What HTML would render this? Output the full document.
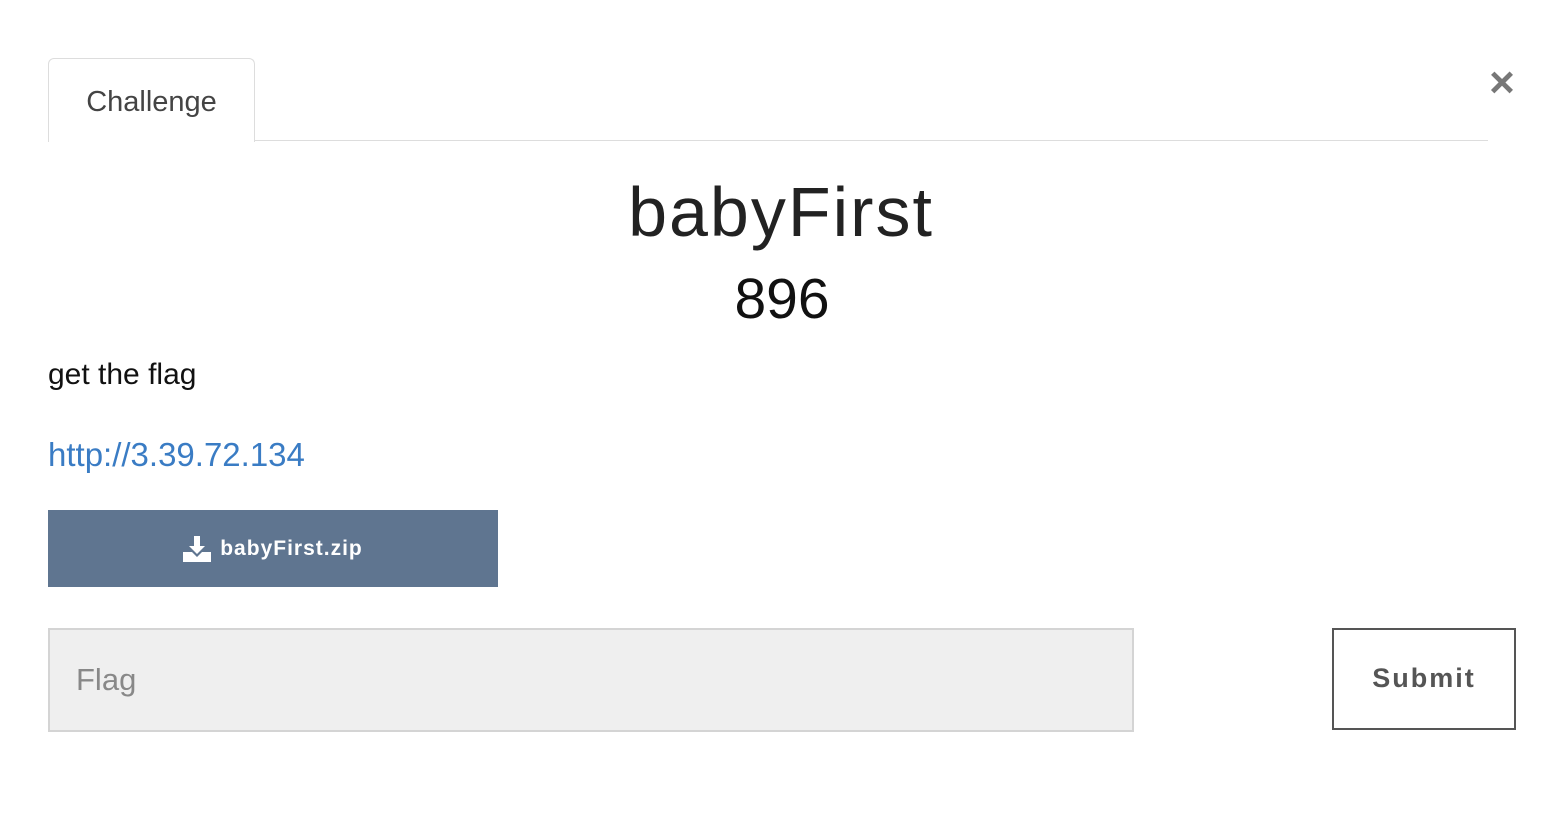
<!DOCTYPE html>
<html><head><meta charset="utf-8"><style>
body{margin:0;width:1568px;height:814px;background:#fff;font-family:"Liberation Sans",sans-serif;position:relative;overflow:hidden}
.abs{position:absolute}
</style></head><body>
<div class="abs" style="left:48px;top:58px;width:207px;height:84px;border:1px solid #ddd;border-bottom:none;border-radius:6px 6px 0 0;background:#fff;z-index:2;box-sizing:border-box;text-align:center;line-height:86px;font-size:29px;color:#444">Challenge</div>
<div class="abs" style="left:48px;top:140px;width:1440px;height:1px;background:#ddd"></div>
<div class="abs" style="left:1484px;top:58px;width:36px;height:50px;font-size:44px;font-weight:bold;color:#777;text-align:center;line-height:50px">×</div>
<div class="abs" style="left:0;width:1562px;top:172px;text-align:center;font-size:70px;letter-spacing:2px;font-weight:300;color:#222;line-height:80px">babyFirst</div>
<div class="abs" style="left:0;width:1564px;top:266px;text-align:center;font-size:57px;color:#111;line-height:66px">896</div>
<div class="abs" style="left:48px;top:357px;font-size:30px;color:#111;line-height:36px">get the flag</div>
<div class="abs" style="left:48px;top:436px;font-size:33px;color:#3a7cc4;line-height:38px">http://3.39.72.134</div>
<div class="abs" style="left:48px;top:510px;width:450px;height:77px;background:#5f7590;color:#fff;font-size:21px;font-weight:bold;letter-spacing:1px;display:flex;align-items:center;justify-content:center">
<svg width="28" height="26" viewBox="0 0 28 26" style="margin-right:9px"><path d="M11 0h6v10h5l-8 8-8-8h5z" fill="#fff"/><path d="M0 16h9l5 5 5-5h9v10H0z" fill="#fff"/></svg>babyFirst.zip</div>
<div class="abs" style="left:48px;top:628px;width:1086px;height:104px;background:#efefef;border:2px solid #d4d4d4;box-sizing:border-box;font-size:31px;color:#888;line-height:100px;padding-left:26px">Flag</div>
<div class="abs" style="left:1332px;top:628px;width:184px;height:102px;border:2px solid #555;box-sizing:border-box;text-align:center;line-height:96px;font-size:27px;font-weight:bold;letter-spacing:2px;color:#555">Submit</div>
</body></html>
